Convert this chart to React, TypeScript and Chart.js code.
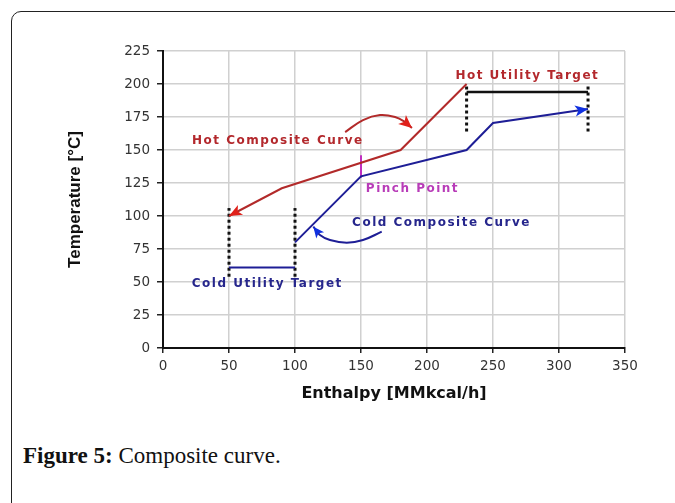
import React, { useEffect, useRef } from "react";
import { Chart, registerables } from "chart.js";

Chart.register(...registerables);

// ---- Data ----
const xTicks = [0, 50, 100, 150, 200, 250, 300, 350];
const yTicks = [0, 25, 50, 75, 100, 125, 150, 175, 200, 225];

const hotEnthalpy = [50, 90, 180, 230];
const hotTemp = [100, 121, 150, 200];

const coldEnthalpy = [100, 150, 230, 250, 322];
const coldTemp = [80, 130, 150, 170.5, 181];

const hotUtilityX = [230, 322];
const hotUtilityY = [194, 194];
const hotUtilityBarLow = 164;
const hotUtilityBarHigh = 200;

const coldUtilityX = [50, 100];
const coldUtilityY = [61, 61];
const coldUtilityBarLow = 54;
const coldUtilityBarHigh = 106;

const pinchX = [150, 150];
const pinchY = [129, 146];

const hotPointerX = [138, 151.5, 164.4, 175.8, 183.3, 188.6];
const hotPointerY = [163.6, 172.7, 176.5, 175, 171.2, 166.7];

const coldPointerX = [165.7, 151.5, 139.2, 126.5, 118.9, 113.9];
const coldPointerY = [88.1, 81.8, 79.8, 81.8, 85.6, 91.9];

const labelTexts = [
  "Hot Composite Curve",
  "Hot Utility Target",
  "Pinch Point",
  "Cold Composite Curve",
  "Cold Utility Target",
];
const labelX = [87, 276, 189, 211, 79];
const labelY = [157, 206, 120.5, 95, 48.5];

const xTitle = "Enthalpy [MMkcal/h]";
const yTitle = "Temperature [°C]";

// ---- Styles ----
const HOT = "#B22A2A";
const HOT_TEXT = "#B3282C";
const HOT_HEAD = "#E0201A";
const COLD = "#1E1E96";
const COLD_TEXT = "#26268C";
const COLD_HEAD = "#1030E0";
const PINCH = "#C030C0";
const labelColors = [HOT_TEXT, HOT_TEXT, "#B83CB8", COLD_TEXT, COLD_TEXT];

const pts = (xs: number[], ys: number[]) => xs.map((x, i) => ({ x, y: ys[i] }));

const lineDs = (data: any[], color: string, width: number, extra: any = {}) => ({
  data,
  showLine: true,
  borderColor: color,
  backgroundColor: color,
  borderWidth: width,
  pointRadius: 0,
  pointHoverRadius: 0,
  fill: false,
  ...extra,
});

const overlayPlugin = {
  id: "overlay",
  afterDatasetsDraw(chart: any) {
    const ctx = chart.ctx;
    const xs = chart.scales.x;
    const ys = chart.scales.y;
    chart.data.datasets.forEach((ds: any, i: number) => {
      if (!ds.arrowColor) return;
      const meta = chart.getDatasetMeta(i);
      const n = meta.data.length;
      const a = meta.data[n - 2];
      const b = meta.data[n - 1];
      const ang = Math.atan2(b.y - a.y, b.x - a.x);
      const len = ds.arrowLen || 12;
      const hw = ds.arrowHalf || 5;
      ctx.save();
      ctx.translate(b.x, b.y);
      ctx.rotate(ang);
      ctx.beginPath();
      ctx.moveTo(0, 0);
      ctx.lineTo(-len, -hw);
      ctx.lineTo(-len * 0.75, 0);
      ctx.lineTo(-len, hw);
      ctx.closePath();
      ctx.fillStyle = ds.arrowColor;
      ctx.fill();
      ctx.restore();
    });
    ctx.save();
    ctx.font = "bold 12px 'DejaVu Sans'";
    ctx.textAlign = "center";
    ctx.textBaseline = "middle";
    (ctx as any).letterSpacing = "1.5px";
    labelTexts.forEach((t, i) => {
      ctx.fillStyle = labelColors[i];
      ctx.fillText(t, xs.getPixelForValue(labelX[i]), ys.getPixelForValue(labelY[i]));
    });
    ctx.restore();
  },
};

export default function App() {
  const ref = useRef<HTMLCanvasElement | null>(null);

  useEffect(() => {
    if (!ref.current) return;
    const dotted = { borderDash: [3, 3] };
    const chart = new Chart(ref.current, {
      type: "scatter",
      data: {
        datasets: [
          lineDs(pts(hotEnthalpy, hotTemp).reverse(), HOT, 2, { arrowColor: HOT_HEAD, arrowLen: 13, arrowHalf: 5.5 }),
          lineDs(pts(coldEnthalpy, coldTemp), COLD, 2, { arrowColor: COLD_HEAD, arrowLen: 13, arrowHalf: 5.5 }),
          lineDs(pts(hotUtilityX, hotUtilityY), "#111", 2.5),
          lineDs(pts([hotUtilityX[0], hotUtilityX[0]], [hotUtilityBarLow, hotUtilityBarHigh]), "#111", 3, dotted),
          lineDs(pts([hotUtilityX[1], hotUtilityX[1]], [hotUtilityBarLow, hotUtilityBarHigh]), "#111", 3, dotted),
          lineDs(pts(coldUtilityX, coldUtilityY), COLD, 2),
          lineDs(pts([coldUtilityX[0], coldUtilityX[0]], [coldUtilityBarLow, coldUtilityBarHigh]), "#111", 3, dotted),
          lineDs(pts([coldUtilityX[1], coldUtilityX[1]], [coldUtilityBarLow, coldUtilityBarHigh]), "#111", 3, dotted),
          lineDs(pts(pinchX, pinchY), PINCH, 2),
          lineDs(pts(hotPointerX, hotPointerY), HOT, 2, { tension: 0.4, arrowColor: HOT_HEAD, arrowLen: 13, arrowHalf: 6 }),
          lineDs(pts(coldPointerX, coldPointerY), COLD, 2, { tension: 0.4, arrowColor: COLD_HEAD, arrowLen: 11, arrowHalf: 5 }),
        ] as any,
      },
      options: {
        responsive: false,
        animation: false,
        devicePixelRatio: 1,
        events: [],
        layout: { padding: { top: 51, right: 50, left: 0, bottom: 0 } },
        plugins: { legend: { display: false }, tooltip: { enabled: false } },
        scales: {
          x: {
            type: "linear",
            min: xTicks[0],
            max: xTicks[xTicks.length - 1],
            afterBuildTicks: (s: any) => {
              s.ticks = xTicks.map((v) => ({ value: v }));
            },
            ticks: {
              color: "#333",
              padding: 5,
              font: { family: "'DejaVu Sans'", size: 13.5 },
            },
            grid: { color: "#d0d0d0", lineWidth: 1.5, tickColor: "#222", tickLength: 5, tickWidth: 1.5 },
            border: { color: "#111", width: 2 },
            title: {
              display: true,
              text: xTitle,
              color: "#111",
              font: { family: "'DejaVu Sans'", size: 16, weight: "bold" },
              padding: { top: 0, bottom: 17 },
            },
            afterFit: (s: any) => {
              s.height = 72;
            },
          },
          y: {
            type: "linear",
            min: yTicks[0],
            max: yTicks[yTicks.length - 1],
            afterBuildTicks: (s: any) => {
              s.ticks = yTicks.map((v) => ({ value: v }));
            },
            ticks: {
              color: "#333",
              padding: 7,
              font: { family: "'DejaVu Sans'", size: 13.5 },
            },
            grid: { color: "#d0d0d0", lineWidth: 1.5, tickColor: "#222", tickLength: 6, tickWidth: 1.5 },
            border: { color: "#111", width: 2 },
            title: {
              display: true,
              text: yTitle,
              color: "#111",
              font: { family: "'Liberation Sans'", size: 17, weight: "bold" },
              padding: { top: 65, bottom: 0 },
            },
            afterFit: (s: any) => {
              s.width = 163;
            },
          },
        },
      },
      plugins: [overlayPlugin],
    } as any);
    return () => chart.destroy();
  }, []);

  return (
    <div style={{ position: "absolute", left: 0, top: 0, width: 675, height: 503, overflow: "hidden", background: "#fff" }}>
      <div
        style={{
          position: "absolute",
          left: 11,
          top: 11,
          width: 700,
          height: 520,
          border: "1.5px solid #222",
          borderRadius: 10,
          boxSizing: "border-box",
        }}
      />
      <canvas
        ref={ref}
        width={675}
        height={420}
        style={{ position: "absolute", left: 0, top: 0, width: 675, height: 420 }}
      />
      <div
        style={{
          position: "absolute",
          left: 23,
          top: 444,
          fontFamily: "'Liberation Serif', serif",
          fontSize: 23,
          lineHeight: "23px",
          color: "#111",
          whiteSpace: "nowrap",
        }}
      >
        <b>Figure 5:</b> Composite curve.
      </div>
    </div>
  );
}
